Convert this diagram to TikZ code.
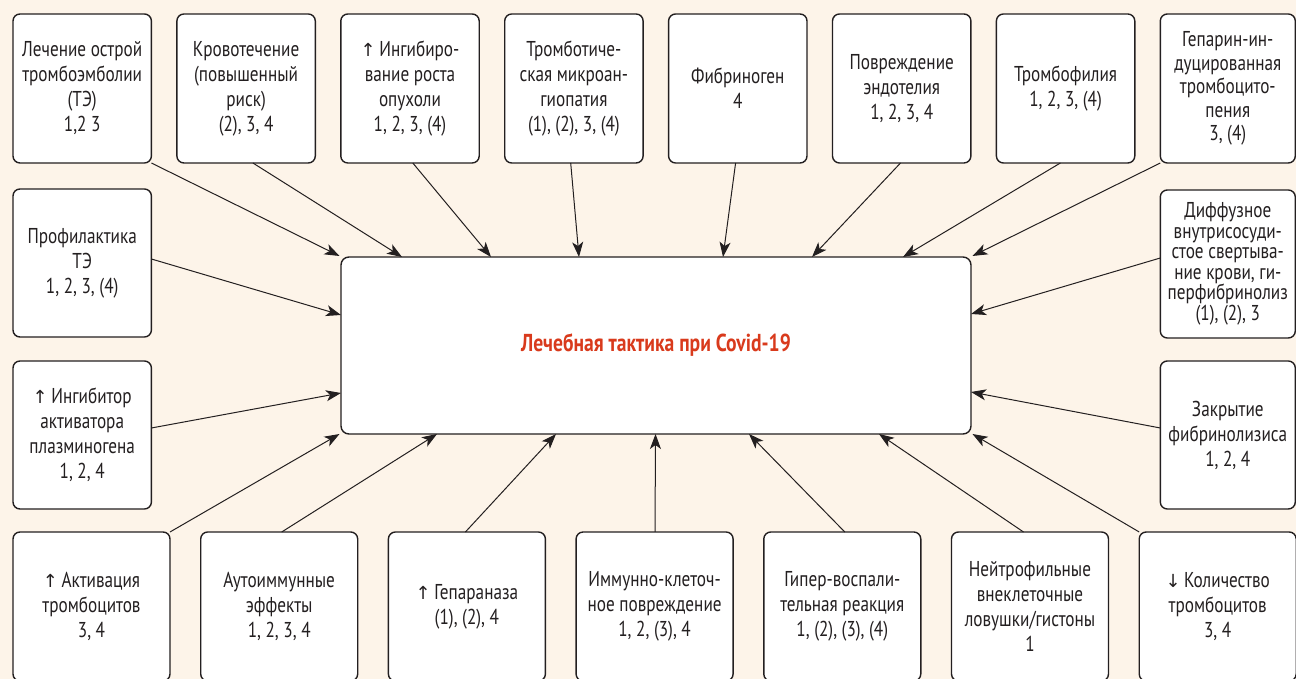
\documentclass[tikz,border=0pt]{standalone}
\usepackage{fontspec}
\setmainfont[FakeStretch=0.8]{PT Sans}
\newfontfamily\arrowfont{DejaVu Sans}
\usepackage{xcolor}
\usepackage{tikz}
\usetikzlibrary{arrows.meta,positioning,calc}
\definecolor{paper}{HTML}{FDF4E9}
\definecolor{ink}{HTML}{231F20}
\definecolor{title}{HTML}{D93A1C}
\newcommand{\arrup}{{\arrowfont\fontsize{18}{18}\selectfont ↑}\,}
\newcommand{\arrdown}{{\arrowfont\fontsize{18}{18}\selectfont ↓}\,}
\tikzset{
  >={Stealth[length=15pt,width=11pt,inset=4pt]},
  flow/.style={->,draw=ink,line width=1pt},
  factor/.style={draw=ink,fill=white,rounded corners=7pt,line width=1.4pt,inner sep=2pt,outer sep=0pt,
                 align=center,font=\fontsize{21.5}{25}\selectfont,text=ink},
  topbox/.style={factor,minimum width=138.4pt,minimum height=149pt},
  sidebox/.style={factor,minimum width=135pt,minimum height=148pt},
  lowbox/.style={factor,minimum width=157pt,minimum height=149pt},
  tactic/.style={factor,rounded corners=8pt,minimum width=630pt,minimum height=177pt,
                 font=\bfseries\fontsize{24.5}{29}\selectfont,text=title},
}
\begin{document}
\begin{tikzpicture}[x=1pt,y=1pt]
  \fill[paper] (0,0) rectangle (1296,679);
  \useasboundingbox (0,0) rectangle (1296,679);

  \node[topbox,anchor=north west] (t1) at (13,665) {Лечение острой\\тромбоэмболии\\(ТЭ)\\1,2 3};
  \node[topbox,right=25.5pt of t1] (t2) {Кровотечение\\(повышенный\\риск)\\(2), 3, 4};
  \node[topbox,right=25.5pt of t2] (t3) {\arrup Ингибиро-\\вание роста\\опухоли\\1, 2, 3, (4)};
  \node[topbox,right=25.5pt of t3] (t4) {Тромботиче-\\ская микроан-\\гиопатия\\(1), (2), 3, (4)};
  \node[topbox,right=25.5pt of t4] (t5) {Фибриноген\\4};
  \node[topbox,right=25.5pt of t5] (t6) {Повреждение\\эндотелия\\1, 2, 3, 4};
  \node[topbox,right=25.5pt of t6] (t7) {Тромбофилия\\1, 2, 3, (4)};
  \node[topbox,minimum width=135pt,font=\fontsize{21.5}{23.5}\selectfont,right=25.5pt of t7] (t8) {Гепарин-ин-\\дуцированная\\тромбоцито-\\пения\\3, (4)};

  \node[sidebox,minimum width=138.4pt,below=26pt of t1] (l1) {Профилактика\\ТЭ\\1, 2, 3, (4)};
  \node[sidebox,minimum width=138.4pt,below=24pt of l1] (l2) {\arrup Ингибитор\\активатора\\плазминогена\\1, 2, 4};
  \node[sidebox,font=\fontsize{21.5}{20.5}\selectfont,below=27pt of t8] (r1) {Диффузное\\внутрисосуди-\\стое свертыва-\\ние крови, ги-\\перфибринолиз\\(1), (2), 3};
  \node[sidebox,below=23pt of r1] (r2) {Закрытие\\фибринолизиса\\1, 2, 4};

  \node[lowbox,anchor=north west] (b1) at (13,147) {\arrup Активация\\тромбоцитов\\3, 4};
  \node[lowbox,right=30.7pt of b1] (b2) {Аутоиммунные\\эффекты\\1, 2, 3, 4};
  \node[lowbox,right=30.7pt of b2] (b3) {\arrup Гепараназа\\(1), (2), 4};
  \node[lowbox,right=30.7pt of b3] (b4) {Иммунно-клеточ-\\ное повреждение\\1, 2, (3), 4};
  \node[lowbox,right=30.7pt of b4] (b5) {Гипер-воспали-\\тельная реакция\\1, (2), (3), (4)};
  \node[lowbox,right=30.7pt of b5] (b6) {Нейтрофильные\\внеклеточные\\ловушки/гистоны\\1};
  \node[lowbox,right=30.7pt of b6] (b7) {\arrdown Количество\\тромбоцитов\\3, 4};

  \node[tactic] (ct) at (656,333.5) {Лечебная тактика при Covid-19};

  \draw[flow] (t1.south east) -- ([xshift=-1.5pt,yshift=1pt]ct.north west);
  \draw[flow] ([xshift=76pt]t2.south west) -- ([xshift=61pt]ct.north west);
  \draw[flow] ([xshift=72pt]t3.south west) -- ([xshift=150pt]ct.north west);
  \draw[flow] ([xshift=66pt]t4.south west) -- ([xshift=238pt]ct.north west);
  \draw[flow] ([xshift=67pt]t5.south west) -- ([xshift=382pt]ct.north west);
  \draw[flow] ([xshift=68pt]t6.south west) -- ([xshift=471pt]ct.north west);
  \draw[flow] ([xshift=64pt]t7.south west) -- ([xshift=562pt]ct.north west);
  \draw[flow] (t8.south west) -- ([xshift=1.5pt,yshift=1pt]ct.north east);

  \draw[flow] ([yshift=4pt]l1.east) -- ([yshift=30.5pt]ct.west);
  \draw[flow] ([yshift=7pt]l2.east) -- ([yshift=-47.5pt]ct.west);
  \draw[flow] ([yshift=6pt]r1.west) -- ([yshift=31.5pt]ct.east);
  \draw[flow] ([yshift=7pt]r2.west) -- ([yshift=-46.5pt]ct.east);

  \draw[flow] (b1.north east) -- ([xshift=-1.5pt]ct.south west);
  \draw[flow] ([xshift=81pt]b2.north west) -- ([xshift=96pt]ct.south west);
  \draw[flow] ([xshift=77pt]b3.north west) -- ([xshift=215pt]ct.south west);
  \draw[flow] (b4) -- (ct);
  \draw[flow] ([xshift=81pt]b5.north west) -- ([xshift=408pt]ct.south west);
  \draw[flow] ([xshift=72pt]b6.north west) -- ([xshift=538pt]ct.south west);
  \draw[flow] (b7.north west) -- ([xshift=1.5pt]ct.south east);
\end{tikzpicture}
\end{document}
